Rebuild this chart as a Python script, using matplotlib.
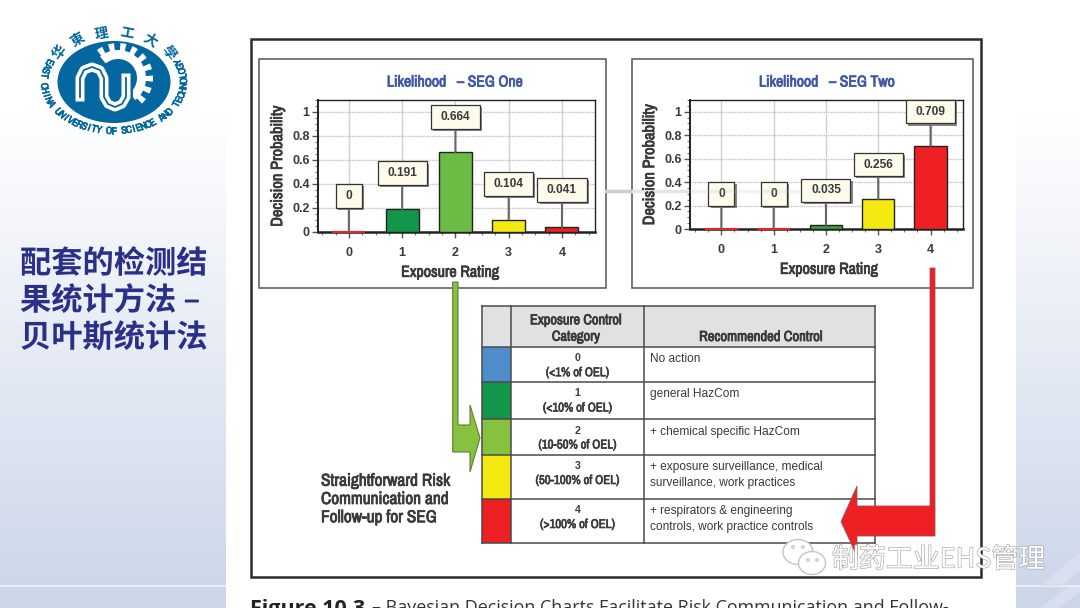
import numpy as np
import matplotlib
matplotlib.use('Agg')
import matplotlib.pyplot as plt
import matplotlib.patheffects as pe
from matplotlib.patches import Rectangle, Polygon, Ellipse, Circle, Wedge
from matplotlib.ticker import MultipleLocator
from matplotlib import font_manager as fm

# chart data
ratings = [0, 1, 2, 3, 4]
seg_one = [0, 0.191, 0.664, 0.104, 0.041]
seg_two = [0, 0, 0.035, 0.256, 0.709]
seg_one_labels = ['0', '0.191', '0.664', '0.104', '0.041']
seg_two_labels = ['0', '0', '0.035', '0.256', '0.709']
seg_one_box_y = [0.30, 0.49, 0.96, 0.40, 0.35]
seg_two_box_y = [0.30, 0.30, 0.33, 0.55, 1.00]
seg_one_colors = ['#ee2024', '#12964a', '#6cbb45', '#f4e911', '#ee2024']
seg_two_colors = ['#ee2024', '#ee2024', '#3c9e3f', '#f4e911', '#ee2024']

# table content
categories = ['0', '1', '2', '3', '4']
oel_ranges = ['(<1% of OEL)', '(<10% of OEL)', '(10-50% of OEL)', '(50-100% of OEL)', '(>100% of OEL)']
controls = ['No action', 'general HazCom', '+ chemical specific HazCom',
            '+ exposure surveillance, medical\nsurveillance, work practices',
            '+ respirators & engineering\ncontrols, work practice controls']
swatches = ['#4f8ccb', '#12964a', '#86c13f', '#f4e911', '#ee2024']

W, H = 1080, 608
SANS = 'Liberation Sans'
CJK = ['Noto Sans CJK SC', 'DejaVu Sans']
INK = '#3a3a3a'

# a condensed face if one happens to be there
narrow_names = [f.name for f in fm.fontManager.ttflist if 'Narrow' in f.name or 'Condensed' in f.name]
NARROW = narrow_names[0] if narrow_names else SANS
k = 1.27 if narrow_names else 1.0


def heavy(color, width=0.55):
    # the condensed face only comes in regular weight
    if not narrow_names:
        return []
    return [pe.withStroke(linewidth=width, foreground=color)]


fig = plt.figure(figsize=(W / 100, H / 100), dpi=100)

# full figure overlay in pixel coordinates
bg = fig.add_axes([0, 0, 1, 1], zorder=0)
grad = np.ones((H, 2, 3))
t = np.clip((np.arange(H) - 110) / 490, 0, 1)[:, None]
grad[:, :, 0] = 1 - t * 0.20
grad[:, :, 1] = 1 - t * 0.16
grad[:, :, 2] = 1 - t * 0.085
bg.imshow(grad, extent=[0, W, H, 0], aspect='auto', zorder=0)
bg.set_xlim(0, W)
bg.set_ylim(H, 0)
bg.axis('off')
bg.add_patch(Rectangle((226, 0), 790, H, fc='white', ec='none', zorder=1))
bg.plot([0, 226], [586, 586], color='#eef2f9', lw=1.2, zorder=1)
bg.plot([1016, W], [586, 586], color='#eef2f9', lw=1.2, zorder=1)
bg.add_patch(Polygon([[1040, 586], [1080, 552], [1080, 570], [1062, 586]], fc='#d8dfee', ec='none', zorder=1))
bg.add_patch(Polygon([[1040, 608], [1068, 587], [1080, 587], [1080, 592], [1058, 608]],
                     fc='#d8dfee', ec='none', zorder=1))

# logo
BLUE = '#04679f'
cx, cy = 114, 82
bg.add_patch(Ellipse((cx, cy), 113, 82, fc=BLUE, ec='none', zorder=2))
gx, gy = 118, 78
for a in np.arange(-122, 45, 20.5):
    bg.add_patch(Wedge((gx, gy), 35, a - 5, a + 5, width=12, fc='white', ec='none', zorder=3))
bg.add_patch(Wedge((gx, gy), 28, -130, 52, width=9, fc='white', ec='none', zorder=3))
nu_x = [80, 80, 84, 92, 100, 104, 104, 108, 115, 122, 126, 126]
nu_y = [97, 78, 70, 67, 70, 78, 97, 104, 107, 104, 97, 78]
bg.plot(nu_x, nu_y, color=BLUE, lw=10, zorder=4, solid_joinstyle='round')
bg.plot(nu_x, nu_y, color='white', lw=6.5, zorder=4, solid_joinstyle='round')
bg.plot(nu_x, nu_y, color=BLUE, lw=1.3, zorder=4, solid_joinstyle='round')


def ring_angles(n, start, stop, a, b):
    # even spacing along the ellipse, not in angle
    th = np.radians(np.linspace(start, stop, 720))
    s = np.concatenate([[0], np.cumsum(np.hypot(np.diff(a * np.cos(th)), np.diff(b * np.sin(th))))])
    return np.degrees(np.interp(np.linspace(0, s[-1], n), s, th))


ring = 'EAST CHINA UNIVERSITY OF SCIENCE AND TECHNOLOGY'
for ch, a in zip(ring, ring_angles(len(ring), 204, -24, 70, 49)):
    r = np.radians(a)
    bg.text(cx + 70 * np.cos(r), cy + 49 * np.sin(r), ch, fontsize=7.4, fontweight='bold',
            family=NARROW, color=BLUE, ha='center', va='center', rotation=90 - a, zorder=3,
            path_effects=[pe.withStroke(linewidth=0.5, foreground=BLUE)])
for ch, a in zip('华東理工大學', np.linspace(-143, -37, 6)):
    r = np.radians(a)
    bg.text(cx + 68 * np.cos(r), cy + 49 * np.sin(r), ch, fontsize=10, fontweight='bold',
            family=CJK, color=BLUE, ha='center', va='center', rotation=-(a + 90), zorder=3)

# slide title
for line, y in zip(['配套的检测结', '果统计方法 –', '贝叶斯统计法'], [264, 301, 338]):
    bg.text(20, y, line, fontsize=22.5, fontweight='bold', family=CJK, color='#2a3088',
            ha='left', va='center', zorder=3,
            path_effects=[pe.SimpleLineShadow(offset=(1, -1), shadow_color='#8f98bb', alpha=0.7), pe.Normal()])

# figure frame and chart panels
bg.add_patch(Rectangle((251.2, 39.2), 729.5, 537.5, fc='white', ec='#2b2b2b', lw=1.8, zorder=2))
bg.add_patch(Rectangle((259, 59), 347, 229, fc='white', ec='#555555', lw=1.1, zorder=3))
bg.add_patch(Rectangle((632, 59), 341, 229, fc='white', ec='#555555', lw=1.1, zorder=3))
bg.plot([606, 632], [190.5, 190.5], color='#cfcfcf', lw=2.5, zorder=3)
bg.plot([633, 690], [190.5, 190.5], color='#e6e6e6', lw=2.5, zorder=3.5)
bg.text(455, 82, 'Likelihood   – SEG One', fontsize=8.9 * k, fontweight='bold', family=NARROW,
        color='#4058a8', ha='center', va='center', zorder=4, path_effects=heavy('#4058a8'))
bg.text(827, 82, 'Likelihood   – SEG Two', fontsize=8.9 * k, fontweight='bold', family=NARROW,
        color='#4058a8', ha='center', va='center', zorder=4, path_effects=heavy('#4058a8'))

# table
xs = [481.5, 511, 643.7, 874.5]
ys = [306, 346.7, 382, 419, 454.5, 498.5, 543]
bg.add_patch(Rectangle((xs[0], ys[0]), xs[3] - xs[0], ys[1] - ys[0], fc='#e0e1e3', ec='none', zorder=3))
for i, color in enumerate(swatches):
    bg.add_patch(Rectangle((xs[0], ys[i + 1]), xs[1] - xs[0], ys[i + 2] - ys[i + 1],
                           fc=color, ec='none', zorder=3))
for y in ys:
    bg.plot([xs[0], xs[3]], [y, y], color='#4a4a4a', lw=1.1, zorder=4)
for x in xs:
    bg.plot([x, x], [ys[0], ys[-1]], color='#4a4a4a', lw=1.1, zorder=4)
bg.text(576, 328.5, 'Exposure Control\nCategory', fontsize=8.2 * k, fontweight='bold', family=NARROW,
        color=INK, ha='center', va='center', linespacing=1.22, zorder=5, path_effects=heavy(INK))
bg.text(761, 337, 'Recommended Control', fontsize=8.3 * k, fontweight='bold', family=NARROW,
        color=INK, ha='center', va='center', zorder=5, path_effects=heavy(INK))
for i, (cat, rng, ctl) in enumerate(zip(categories, oel_ranges, controls)):
    row_top = ys[i + 1]
    bg.text(577.5, row_top + 11.5, cat, fontsize=7.6, fontweight='bold', family=SANS, color=INK,
            ha='center', va='center', zorder=5)
    bg.text(577.5, row_top + 26, rng, fontsize=7.2 * k, fontweight='bold', family=NARROW, color=INK,
            ha='center', va='center', zorder=5, path_effects=heavy(INK, 0.45))
    if '\n' in ctl:
        bg.text(650, row_top + 20.5, ctl, fontsize=8.6, family=SANS, color=INK,
                ha='left', va='center', linespacing=1.4, zorder=5)
    else:
        bg.text(650, row_top + 12.5, ctl, fontsize=8.6, family=SANS, color=INK,
                ha='left', va='center', zorder=5)
bg.text(321, 499.5, 'Straightforward Risk\nCommunication and\nFollow-up for SEG', fontsize=9.8 * k,
        fontweight='bold', family=NARROW, color=INK, ha='left', va='center',
        linespacing=1.27, zorder=5, path_effects=heavy(INK))

# connector arrows
bg.add_patch(Polygon([[452.7, 282], [458, 282], [458, 425], [470, 425], [470, 405], [480, 438],
                      [470, 472], [470, 452], [452.7, 452]],
                     fc='#86c13f', ec='#5d7f35', lw=0.8, zorder=6))
bg.add_patch(Polygon([[930, 268], [935, 268], [935, 536], [857, 536], [857, 556], [841, 521.7],
                      [857, 486], [857, 506], [930, 506]],
                     fc='#ee2024', ec='#8a5a5a', lw=0.6, zorder=6))

# caption, cut by the slide edge as in the source
bg.text(250, 615, 'Figure 10.3', fontsize=15.5, fontweight='bold', family='Open Sans',
        color='#222222', ha='left', va='baseline', zorder=3)
bg.text(372, 613, '– Bayesian Decision Charts Facilitate Risk Communication and Follow-',
        fontsize=12.9, family='Open Sans', color='#333333', ha='left', va='baseline', zorder=3)


def draw_chart(rect, xlim, values, colors, labels, box_y, label_x):
    l, t, r, b = rect
    ax = fig.add_axes([l / W, 1 - b / H, (r - l) / W, (b - t) / H], zorder=2)
    ax.set_xlim(*xlim)
    ax.set_ylim(0, 1.1)
    ax.set_axisbelow(True)
    ax.grid(True, axis='y', color='#c6c6c6', lw=1, ls=(0, (1, 0.6)))
    ax.grid(True, axis='x', color='#d0d0d0', lw=1)
    ax.bar(ratings, values, width=0.62, color=colors, edgecolor='#222222', lw=1, zorder=3)
    # empty categories still show a thin coloured strip on the axis
    for x, v, c in zip(ratings, values, colors):
        if v == 0:
            ax.hlines(v, x - 0.31, x + 0.31, colors=c, lw=1.5, zorder=5, clip_on=False)
    for x, v, lab, y in zip(ratings, values, labels, box_y):
        ann = ax.annotate(lab, xy=(x, v), xytext=(x, y), ha='center', va='center',
                          fontsize=8.6, fontweight='bold', family=SANS, color=INK,
                          annotation_clip=False, zorder=6,
                          bbox=dict(boxstyle='square,pad=0.8', mutation_aspect=0.6,
                                    fc='#fdfbea', ec='#333333', lw=0.9),
                          arrowprops=dict(arrowstyle='-', color='#666666', lw=1.5,
                                          shrinkA=0, shrinkB=0))
        ann.get_bbox_patch().set_path_effects([
            pe.SimplePatchShadow(offset=(1.6, -1.6), shadow_rgbFace='#777777', alpha=0.9),
            pe.Normal()])
    ax.set_xticks(ratings)
    ax.set_yticks([0, 0.2, 0.4, 0.6, 0.8, 1])
    ax.set_yticklabels(['0', '0.2', '0.4', '0.6', '0.8', '1'])
    ax.xaxis.set_minor_locator(MultipleLocator(0.25))
    ax.yaxis.set_minor_locator(MultipleLocator(0.05))
    ax.tick_params(axis='both', which='major', length=4, width=1, color='#555555', labelsize=9,
                   labelcolor=INK)
    ax.tick_params(axis='both', which='minor', length=2, width=0.8, color='#777777')
    ax.tick_params(axis='x', pad=7)
    ax.tick_params(axis='y', pad=2)
    for lab in ax.get_xticklabels() + ax.get_yticklabels():
        lab.set_fontweight('bold')
        lab.set_family(SANS)
    for s in ax.spines.values():
        s.set_color('#222222')
        s.set_linewidth(1)
    ax.spines['bottom'].set_linewidth(1.8)
    ax.spines['left'].set_linewidth(1.4)
    xl = ax.set_xlabel('Exposure Rating', fontsize=9.1 * k, fontweight='bold', family=NARROW, color=INK,
                       labelpad=4, path_effects=heavy(INK))
    xl.set_x(label_x)
    ax.set_ylabel('Decision Probability', fontsize=9.3 * k, fontweight='bold', family=NARROW, color=INK,
                  labelpad=5, path_effects=heavy(INK))
    return ax


draw_chart((318, 100, 595, 232), (-0.58, 4.62), seg_one, seg_one_colors, seg_one_labels, seg_one_box_y, 0.477)
draw_chart((690, 100, 963, 229), (-0.6, 4.62), seg_two, seg_two_colors, seg_two_labels, seg_two_box_y, 0.509)

# watermark on top of everything
top = fig.add_axes([0, 0, 1, 1], zorder=5)
top.set_xlim(0, W)
top.set_ylim(H, 0)
top.axis('off')
top.patch.set_alpha(0)
top.plot([690, 800], [190.5, 190.5], color='#bbbbbb', lw=2.5, alpha=0.18)
top.add_patch(Ellipse((798, 552), 30, 25, fc='white', ec='#c4c4c4', lw=1))
top.add_patch(Ellipse((812, 563), 27, 23, fc='white', ec='#c4c4c4', lw=1))
for x, y in [(793, 547), (803, 547), (808, 560), (817, 560)]:
    top.add_patch(Circle((x, y), 1.3, fc='white', ec='#aaaaaa', lw=0.6))
top.text(832, 560, '制药工业EHS管理', fontsize=19.4, family=CJK, color='white', ha='left', va='center',
         path_effects=[pe.withStroke(linewidth=0.9, foreground='#a6a6a6')])

plt.savefig('out.png', dpi=100)
